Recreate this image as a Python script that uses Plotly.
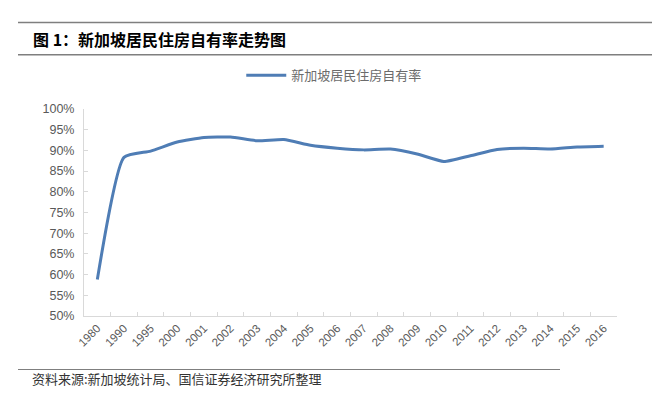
import plotly.graph_objects as go

years = ["1980", "1990", "1995", "2000", "2001", "2002", "2003", "2004", "2005", "2006",
         "2007", "2008", "2009", "2010", "2011", "2012", "2013", "2014", "2015", "2016"]
ownership = [0.588, 0.883, 0.898, 0.920, 0.931, 0.932, 0.923, 0.926, 0.912, 0.905,
             0.901, 0.903, 0.891, 0.873, 0.887, 0.902, 0.905, 0.903, 0.908, 0.910]
y_ticks = [0.50, 0.55, 0.60, 0.65, 0.70, 0.75, 0.80, 0.85, 0.90, 0.95, 1.00]

series_name = "新加坡居民住房自有率"
title_text = "图 1：新加坡居民住房自有率走势图"
source_text = "资料来源:新加坡统计局、国信证券经济研究所整理"

CJK = "Noto Sans CJK SC, Noto Sans, sans-serif"
LAT = "Liberation Sans, Arial, sans-serif"

L, R, T, B = 84, 44, 105, 80
W, H = 661, 396
PW, PH = W - L - R, H - T - B


def px(x):
    return (x - L) / PW


def py(y):
    return (H - B - y) / PH


fig = go.Figure()
fig.add_trace(go.Scatter(
    x=years, y=ownership, mode="lines", name=series_name,
    line=dict(color="#4f7db5", width=3, shape="spline", smoothing=0.5),
))

fig.update_layout(
    width=W, height=H,
    margin=dict(l=L, r=R, t=T, b=B),
    paper_bgcolor="white", plot_bgcolor="white",
    showlegend=True,
    legend=dict(
        orientation="h", xref="container", yref="container",
        x=0.365, y=0.81, xanchor="left", yanchor="middle",
        font=dict(family=CJK, size=13, color="#6b6b6b"),
        itemwidth=40, bgcolor="rgba(0,0,0,0)",
    ),
    xaxis=dict(
        type="category", showgrid=False, showline=True, linecolor="#d9d9d9", linewidth=1,
        ticks="inside", ticklen=4, tickcolor="#d9d9d9", tickson="boundaries",
        tickangle=-45, tickfont=dict(family=LAT, size=11.5, color="#595959"),
        range=[-0.5, len(years) - 0.5], fixedrange=True,
    ),
    yaxis=dict(
        range=[0.5, 1.0], tickvals=y_ticks, tickformat=".0%",
        showgrid=False, showline=True, linecolor="#d9d9d9", linewidth=1,
        ticks="inside", ticklen=4, tickcolor="#d9d9d9",
        tickfont=dict(family=LAT, size=12.5, color="#595959"),
        ticklabelstandoff=6, zeroline=False, fixedrange=True,
    ),
)

# header / footer rules
for y in [17, 50]:
    fig.add_shape(type="line", xref="paper", yref="paper",
                  x0=px(18), x1=px(652), y0=py(y), y1=py(y),
                  line=dict(color="#7f7f7f", width=1.5))
fig.add_shape(type="line", xref="paper", yref="paper",
              x0=px(18), x1=px(560), y0=py(370.5), y1=py(370.5),
              line=dict(color="#7f7f7f", width=1))

fig.add_annotation(text="<b>" + title_text + "</b>", xref="paper", yref="paper",
                   x=px(31), y=py(33.5), xanchor="left", yanchor="middle",
                   showarrow=False, font=dict(family=CJK, size=16, color="#000000"))
fig.add_annotation(text=source_text, xref="paper", yref="paper",
                   x=px(30), y=py(380), xanchor="left", yanchor="middle",
                   showarrow=False, font=dict(family=CJK, size=13, color="#333333"))

fig.write_html("out.html", config={"displayModeBar": False},
               post_script="document.body.style.margin='0';")
